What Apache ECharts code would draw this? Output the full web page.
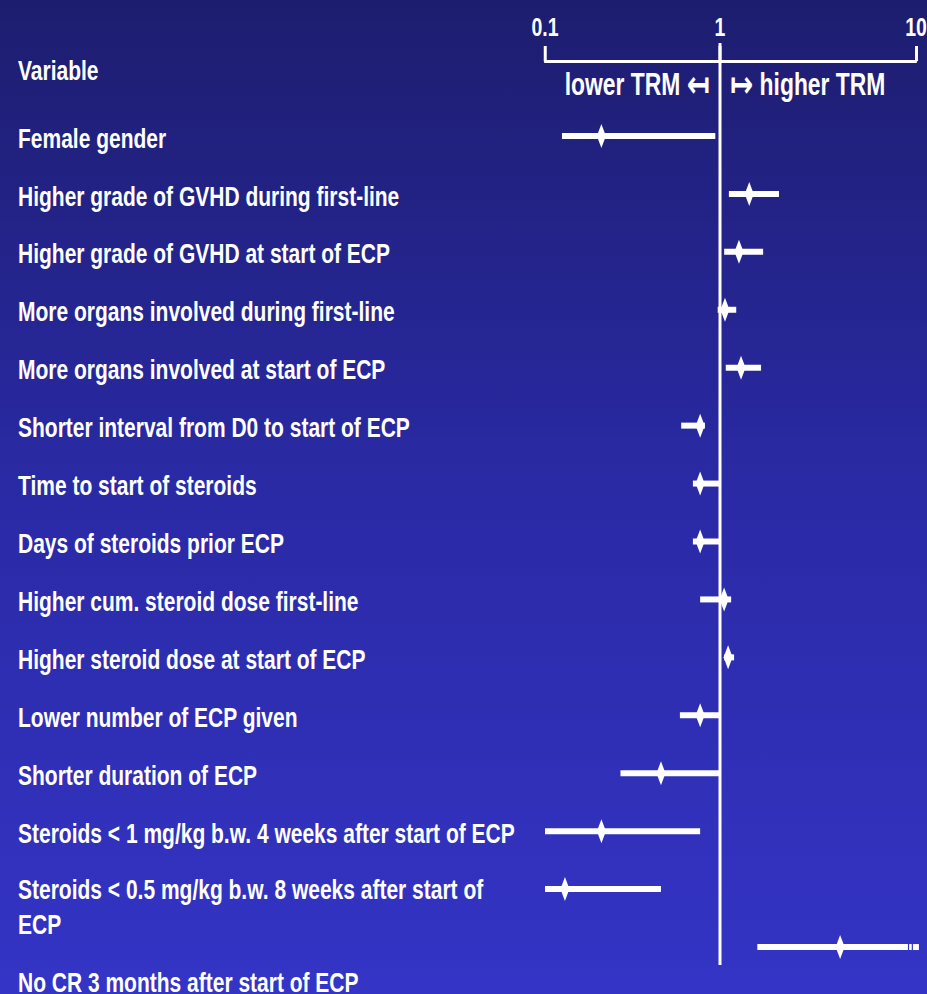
<!DOCTYPE html>
<html>
<head>
<meta charset="utf-8">
<title>TRM risk factors</title>
<script src="https://cdn.jsdelivr.net/npm/echarts@6/dist/echarts.min.js"></script>
<style>
  html, body { margin: 0; padding: 0; overflow: hidden; width: 927px; height: 994px; }
  /* the chart is laid out wide and squeezed horizontally for narrow lettering */
  #chart { height: 994px; transform-origin: 0 0; }
</style>
</head>
<body>
<div id="chart"></div>
<script>
// Hazard ratios with confidence intervals for transplant-related mortality
const categories = [
  'Female gender',
  'Higher grade of GVHD during first-line',
  'Higher grade of GVHD at start of ECP',
  'More organs involved during first-line',
  'More organs involved at start of ECP',
  'Shorter interval from D0 to start of ECP',
  'Time to start of steroids',
  'Days of steroids prior ECP',
  'Higher cum. steroid dose first-line',
  'Higher steroid dose at start of ECP',
  'Lower number of ECP given',
  'Shorter duration of ECP',
  'Steroids < 1 mg/kg b.w. 4 weeks after start of ECP',
  'Steroids < 0.5 mg/kg b.w. 8 weeks after start of\nECP',
  'No CR 3 months after start of ECP'
];
const estimate = [0.21, 1.41, 1.25, 1.06, 1.28, 0.77, 0.77, 0.77, 1.05, 1.10, 0.77, 0.46, 0.21, 0.13, 4.10];
const lower    = [0.125, 1.11, 1.05, 0.97, 1.07, 0.60, 0.70, 0.70, 0.77, 1.05, 0.59, 0.27, 0.10, 0.10, 1.55];
const upper    = [0.94, 2.00, 1.66, 1.21, 1.62, 0.82, 1.00, 1.00, 1.14, 1.18, 1.00, 0.99, 0.77, 0.46, 10.35];
const axisTicks = [0.1, 1, 10];

// Horizontal squeeze: layout happens in a wider space, then scaled to the page width
const PAGE_W = 927;
const SQUEEZE = 0.75;
const W = PAGE_W / SQUEEZE;
const X = px => px / SQUEEZE;   // page pixels -> chart pixels (horizontal only)

const el = document.getElementById('chart');
el.style.width = W + 'px';
el.style.transform = 'scaleX(' + SQUEEZE + ')';

const FONT = "'Liberation Sans', Arial, 'DejaVu Sans', sans-serif";
const white = '#ffffff';
const labelFont = { color: white, fontWeight: 'bold', fontFamily: FONT, fontSize: 28 };
const tickFont = { color: white, fontWeight: 'bold', fontFamily: FONT, fontSize: 26 };
const noteFont = { color: white, fontWeight: 'bold', fontFamily: FONT, fontSize: 30.5, lineHeight: 37 };
const arrowFont = { color: white, fontWeight: 'bold', fontFamily: "'DejaVu Sans', sans-serif", fontSize: 37, lineHeight: 37 };

// Row-label placement: the wrapped label and the one after it sit lower than their rows
const LINE_H = 35;
const rich = {
  row:  Object.assign({ padding: [4, 0, 0, 0], lineHeight: LINE_H }, labelFont),
  wrap: Object.assign({ padding: [36, 0, 0, 0], lineHeight: LINE_H }, labelFont),
  low:  Object.assign({ padding: [70, 0, 0, 0], lineHeight: LINE_H }, labelFont)
};
function formatRowLabel(value) {
  const lines = String(value).split('\n');
  if (lines.length > 1) {
    return lines.map(l => '{wrap|' + l + '}').join('\n');
  }
  return value === categories[categories.length - 1] ? '{low|' + value + '}' : '{row|' + value + '}';
}

const ciData = categories.map((_, i) => [lower[i], upper[i], i]);
const pointData = categories.map((_, i) => [estimate[i], i]);

const BAR_H = 6;

function ciRenderer(domainMin, domainMax, openRight) {
  return function (params, api) {
    const lo = api.value(0), hi = api.value(1), row = api.value(2);
    const a = Math.max(lo, domainMin);
    let b = Math.min(hi, domainMax);
    const overflow = openRight && hi > domainMax;
    if (overflow) b = hi;
    if (a >= b) return null;
    const p0 = api.coord([a, row]);
    const p1 = api.coord([b, row]);
    const y = p0[1] - BAR_H / 2;
    const style = { fill: white };
    if (!overflow) {
      return { type: 'rect', shape: { x: p0[0], y: y, width: p1[0] - p0[0], height: BAR_H }, style: style };
    }
    // interval runs past the axis end: broken tail
    const end = p1[0];
    return {
      type: 'group',
      children: [
        { type: 'rect', shape: { x: p0[0], y: y, width: end - X(11) - p0[0], height: BAR_H }, style: style },
        { type: 'rect', shape: { x: end - X(9.8), y: y, width: X(2.6), height: BAR_H }, style: style },
        { type: 'rect', shape: { x: end - X(6), y: y, width: X(6), height: BAR_H }, style: style }
      ]
    };
  };
}

function xAxisFor(gridIndex, min, max, showMin) {
  return {
    gridIndex: gridIndex,
    type: 'log',
    logBase: 10,
    min: min,
    max: max,
    position: 'top',
    offset: 46,
    axisLine: { show: true, lineStyle: { color: white, width: 3 } },
    axisTick: { show: true, length: 15, lineStyle: { color: white, width: X(3) } },
    axisLabel: Object.assign({ margin: 21, showMinLabel: showMin }, tickFont),
    splitLine: { show: false },
    minorTick: { show: false }
  };
}

const chart = echarts.init(el, null, { renderer: 'svg', width: W, height: 994 });

chart.setOption({
  animation: false,
  backgroundColor: {
    type: 'linear', x: 0, y: 0, x2: 0, y2: 1,
    colorStops: [
      { offset: 0, color: '#1d1d6f' },
      { offset: 0.5, color: '#2a2aa6' },
      { offset: 1, color: '#3434c6' }
    ]
  },
  title: [
    { text: 'Variable', left: X(18), top: 56, padding: 0, textStyle: labelFont },
    {
      text: '{t|lower TRM} {a|\u21a4}', right: W - X(710), top: 66, padding: 0,
      textStyle: Object.assign({ rich: { t: noteFont, a: arrowFont } }, noteFont)
    },
    {
      text: '{a|\u21a6} {t|higher TRM}', left: X(730), top: 66, padding: 0,
      textStyle: Object.assign({ rich: { t: noteFont, a: arrowFont } }, noteFont)
    }
  ],
  grid: [
    { left: X(545), width: X(175), top: 107, bottom: 18, containLabel: false, outerBoundsMode: 'none' },
    { left: X(720), width: X(196), top: 107, bottom: 18, containLabel: false, outerBoundsMode: 'none' }
  ],
  xAxis: [
    xAxisFor(0, axisTicks[0], axisTicks[1], true),
    xAxisFor(1, axisTicks[1], axisTicks[2], false)
  ],
  yAxis: [
    {
      gridIndex: 0,
      type: 'category',
      data: categories,
      inverse: true,
      axisLine: { show: false },
      axisTick: { show: false },
      splitLine: { show: false },
      axisLabel: Object.assign({
        interval: 0, align: 'left', margin: X(527), lineHeight: LINE_H,
        formatter: formatRowLabel, rich: rich
      }, labelFont)
    },
    {
      gridIndex: 1,
      type: 'category',
      data: categories,
      inverse: true,
      show: false
    }
  ],
  series: [
    {
      type: 'custom', name: 'CI low side', xAxisIndex: 0, yAxisIndex: 0,
      data: ciData, encode: { x: [0, 1], y: 2 },
      renderItem: ciRenderer(axisTicks[0], axisTicks[1], false)
    },
    {
      type: 'custom', name: 'CI high side', xAxisIndex: 1, yAxisIndex: 1,
      data: ciData, encode: { x: [0, 1], y: 2 },
      renderItem: ciRenderer(axisTicks[1], axisTicks[2], true)
    },
    {
      type: 'custom', name: 'Reference', xAxisIndex: 1, yAxisIndex: 1,
      data: [[axisTicks[1], 0]], encode: { x: 0, y: 1 }, z: 5,
      renderItem: function (params, api) {
        const x = api.coord([api.value(0), 0])[0];
        return { type: 'line', shape: { x1: x, y1: 43, x2: x, y2: 965 }, style: { stroke: white, lineWidth: X(3) } };
      }
    },
    {
      type: 'scatter', name: 'HR low side', xAxisIndex: 0, yAxisIndex: 0,
      data: pointData.filter(d => d[0] < axisTicks[1]),
      symbol: 'diamond', symbolSize: [X(9), 24],
      itemStyle: { color: white, opacity: 1 }, z: 6
    },
    {
      type: 'scatter', name: 'HR high side', xAxisIndex: 1, yAxisIndex: 1,
      data: pointData.filter(d => d[0] >= axisTicks[1]),
      symbol: 'diamond', symbolSize: [X(9), 24],
      itemStyle: { color: white, opacity: 1 }, z: 6
    }
  ]
});
</script>
</body>
</html>
